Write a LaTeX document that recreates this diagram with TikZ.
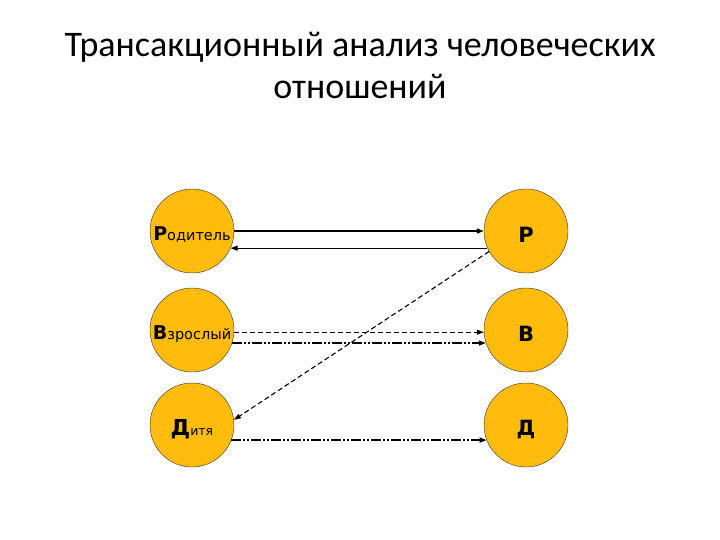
\documentclass[tikz,border=0pt]{standalone}
\usepackage{fontspec}
\setmainfont{Carlito}
\newfontfamily\circlefont{DejaVu Sans}
\usetikzlibrary{arrows.meta}
\definecolor{ego}{HTML}{FFBC0C}
\tikzset{
  egostate/.style={circle,draw=black!80,thin,fill=ego,minimum size=84pt,inner sep=0pt},
  egolabel/.style={yshift=-4pt},
  tip/.style={-{Triangle[length=7pt,width=5pt]}},
  dashdotdot/.style={dash pattern=on 10pt off 2pt on 2pt off 2pt on 2pt off 2pt},
}
\newcommand{\bigletter}[2][19]{{\circlefont\fontsize{#1}{#1}\selectfont\bfseries #2}}
\newcommand{\restword}[2][14.5]{{\circlefont\fontsize{#1}{#1}\selectfont #2}}
\begin{document}
\begin{tikzpicture}[x=1pt,y=-1pt]
	\useasboundingbox (0,0) rectangle (720,540);
    % title
    \node[anchor=base] (title1) at (360,57) {\fontsize{36}{36}\selectfont Трансакционный анализ человеческих};
    \node[anchor=base] (title2) at (360,99) {\fontsize{36}{36}\selectfont отношений};
    % left column
    \node[egostate,label={[egolabel]center:\bigletter{Р}\restword{одитель}}] (parentL) at (192,231) {};
    \node[egostate,label={[egolabel]center:\bigletter{В}\restword{зрослый}}] (adultL) at (192,330) {};
    \node[egostate,label={[egolabel]center:\bigletter[22]{Д}\restword[12.5]{итя}}] (childL) at (192,425) {};
    % right column
    \node[egostate,label={[egolabel]center:\bigletter[21]{Р}}] (parentR) at (526,231) {};
    \node[egostate,label={[egolabel]center:\bigletter[21]{В}}] (adultR) at (526,330) {};
    \node[egostate,label={[egolabel]center:\bigletter[21]{Д}}] (childR) at (526,425) {};
    % transactions
    \draw [tip,line width=1.6pt] (parentL.east) -- (parentR.west);
    \draw [tip,line width=0.9pt] (parentR.204) -- (parentL.336);
    \draw [tip,line width=1pt,dash pattern=on 5pt off 3pt] (adultL.357) -- (adultR.183);
    \draw [tip,line width=1.5pt,dashdotdot] (adultL.342) -- (adultR.198);
    \draw [tip,line width=1.5pt,dashdotdot] (childL.339) -- (childR.201);
    \draw [tip,line width=1.1pt,dash pattern=on 5pt off 3pt] (parentR.209) -- (childL.7);
\end{tikzpicture}
\end{document}
